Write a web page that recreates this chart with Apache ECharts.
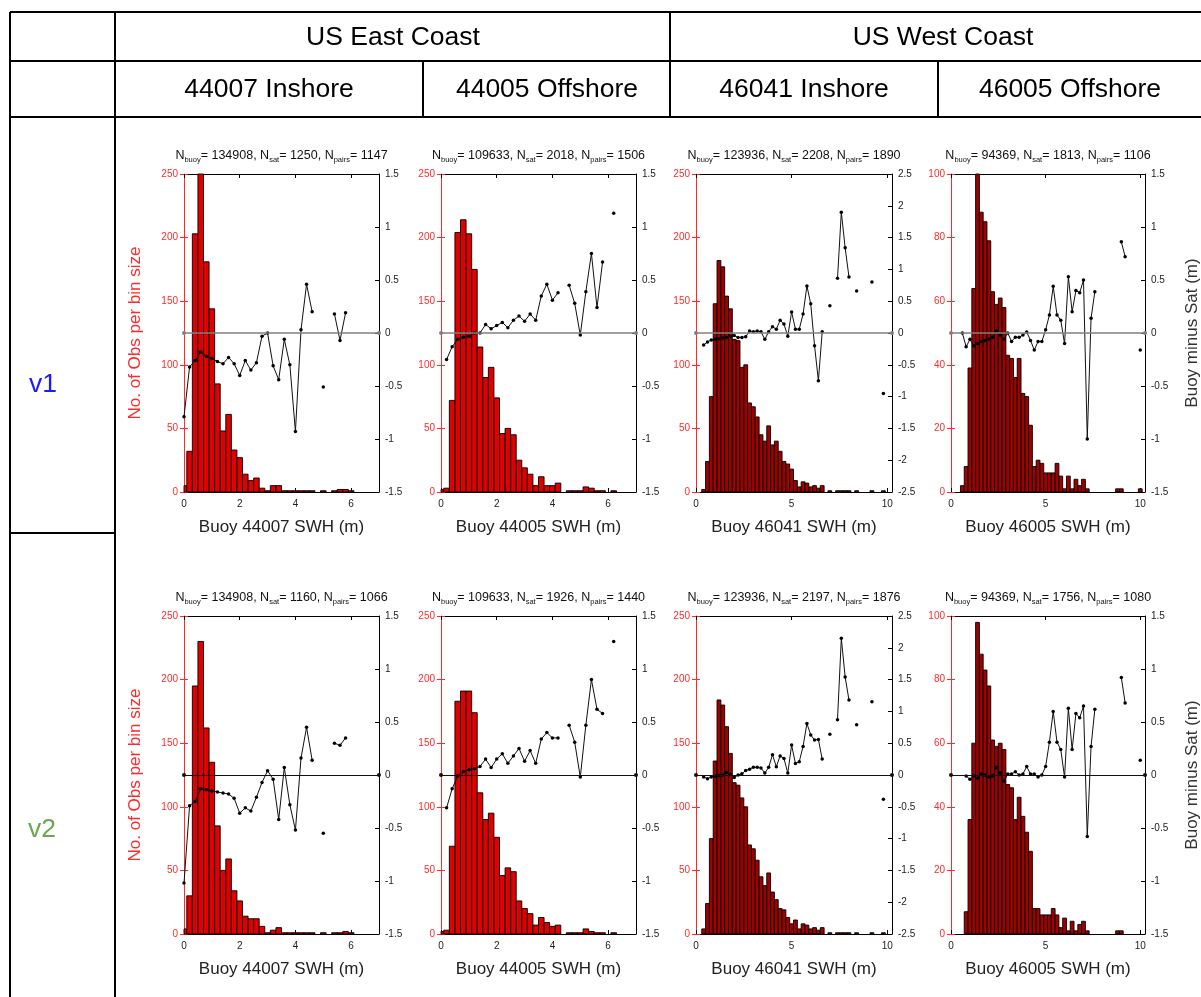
<!DOCTYPE html>
<html>
<head>
<meta charset="utf-8">
<script src="https://cdn.jsdelivr.net/npm/echarts@6.0.0/dist/echarts.min.js"></script>
<style>
  html, body { margin: 0; padding: 0; background: #fff; }
  #chart-container { width: 1201px; height: 997px; }
</style>
</head>
<body>
<div id="chart-container"></div>
<script>
// histogram bins are 0.2 m wide, centred on 0, 0.2, 0.4 ...
var binWidth = 0.2;

var buoys = ['44007', '44005', '46041', '46005'];
var regions = ['US East Coast', 'US West Coast'];
var sites = ['44007 Inshore', '44005 Offshore', '46041 Inshore', '46005 Offshore'];
var versions = ['v1', 'v2'];

var nBuoy = [134908, 109633, 123936, 94369];
var nSatV1 = [1250, 2018, 2208, 1813];
var nPairsV1 = [1147, 1506, 1890, 1106];
var nSatV2 = [1160, 1926, 2197, 1756];
var nPairsV2 = [1066, 1440, 1876, 1080];

// counts per bin (left axis)
var countV1_44007 = [5, 32, 203, 252, 181, 144, 85, 48, 61, 33, 27, 14, 9, 11, 3, 1, 5, 5, 1, 1, 1, 1, 1, 1, 0, 1, 0, 1, 2, 2, 1];
var countV1_44005 = [2, 3, 72, 204, 214, 203, 175, 114, 90, 98, 74, 46, 50, 45, 25, 19, 14, 5, 12, 5, 5, 7, 0, 1, 1, 1, 4, 3, 1, 1, 0, 1];
var countV1_46041 = [0, 0, 2, 24, 75, 148, 182, 177, 154, 144, 120, 119, 98, 100, 70, 67, 59, 45, 40, 52, 37, 40, 32, 24, 22, 18, 9, 4, 8, 7, 4, 5, 3, 5, 0, 1, 0, 1, 1, 1, 1, 0, 1, 0, 0, 0, 1, 0, 0, 1, 0];
var countV1_46005 = [0, 0, 0, 2, 8, 39, 64, 104, 88, 85, 79, 63, 59, 61, 58, 43, 42, 36, 42, 31, 30, 21, 8, 10, 9, 6, 6, 6, 9, 5, 1, 5, 1, 4, 2, 4, 1, 0, 0, 0, 0, 0, 0, 0, 1, 1, 0, 0, 0, 0, 1];
var countV2_44007 = [4, 30, 195, 230, 162, 135, 85, 50, 59, 34, 26, 14, 12, 12, 6, 1, 3, 5, 1, 1, 1, 1, 1, 1, 0, 1, 0, 1, 1, 2, 1];
var countV2_44005 = [2, 3, 69, 183, 191, 191, 174, 111, 90, 95, 76, 46, 52, 49, 26, 20, 16, 7, 13, 9, 6, 7, 0, 1, 1, 1, 4, 2, 1, 1, 0, 1];
var countV2_46041 = [0, 0, 4, 24, 75, 136, 184, 180, 163, 142, 119, 117, 107, 100, 70, 67, 58, 45, 38, 48, 33, 27, 20, 19, 13, 8, 11, 4, 8, 7, 4, 5, 3, 5, 0, 1, 0, 1, 1, 1, 1, 0, 1, 0, 0, 0, 1, 0, 0, 1, 0];
var countV2_46005 = [0, 0, 0, 0, 7, 36, 60, 98, 88, 83, 78, 61, 59, 60, 58, 47, 46, 36, 43, 37, 32, 26, 8, 8, 6, 6, 6, 8, 6, 2, 5, 1, 4, 1, 3, 4, 1, 0, 0, 0, 0, 0, 0, 0, 1, 1, 0, 0, 0, 0, 0];

// mean buoy minus satellite per bin (right axis), null = no pairs
var diffV1_44007 = [-0.79, -0.32, -0.26, -0.18, -0.22, -0.24, -0.27, -0.29, -0.23, -0.29, -0.40, -0.26, -0.35, -0.28, -0.03, 0.00, -0.31, -0.44, -0.06, -0.30, -0.93, 0.03, 0.46, 0.20, null, -0.51, null, 0.18, -0.07, 0.19];
var diffV1_44005 = [null, -0.25, -0.13, -0.06, -0.04, -0.03, 0.00, 0.00, 0.08, 0.04, 0.07, 0.10, 0.05, 0.12, 0.16, 0.11, 0.18, 0.12, 0.35, 0.46, 0.31, 0.38, null, 0.45, 0.28, -0.02, 0.39, 0.75, 0.24, 0.67, null, 1.13];
var diffV1_46041 = [null, null, -0.19, -0.14, -0.11, -0.10, -0.09, -0.08, -0.07, -0.05, -0.04, -0.07, -0.07, -0.06, 0.03, 0.02, 0.03, 0.02, -0.10, 0.02, 0.10, 0.06, 0.20, 0.14, -0.05, 0.33, 0.06, 0.06, 0.30, 0.74, 0.46, -0.20, -0.75, 0.02, null, 0.43, null, 0.86, 1.90, 1.34, 0.88, null, 0.66, null, null, null, 0.80, null, null, -0.95];
var diffV1_46005 = [null, null, null, 0.00, -0.13, -0.06, -0.12, -0.10, -0.08, -0.07, -0.06, -0.04, 0.02, -0.02, -0.06, 0.00, -0.08, -0.04, -0.04, -0.02, 0.01, -0.07, -0.16, -0.08, -0.08, 0.03, 0.17, 0.44, 0.17, 0.12, -0.10, 0.53, 0.20, 0.40, 0.38, 0.50, -1.00, 0.14, 0.39, null, null, null, null, null, null, 0.86, 0.72, null, null, null, -0.16];
var diffV2_44007 = [-1.02, -0.29, -0.25, -0.13, -0.14, -0.15, -0.16, -0.17, -0.18, -0.22, -0.36, -0.31, -0.34, -0.21, -0.07, 0.04, -0.04, -0.42, 0.07, -0.28, -0.52, 0.16, 0.45, 0.14, null, -0.55, null, 0.30, 0.28, 0.35];
var diffV2_44005 = [null, -0.31, -0.13, -0.01, 0.03, 0.05, 0.06, 0.08, 0.15, 0.07, 0.15, 0.20, 0.11, 0.18, 0.25, 0.13, 0.23, 0.11, 0.34, 0.40, 0.35, 0.35, null, 0.47, 0.31, -0.02, 0.47, 0.90, 0.62, 0.58, null, 1.26];
var diffV2_46041 = [null, null, -0.03, -0.06, -0.03, -0.02, -0.01, 0.00, 0.04, 0.01, -0.04, 0.00, 0.02, 0.07, 0.09, 0.12, 0.12, 0.11, 0.03, 0.12, 0.32, 0.13, 0.30, 0.26, 0.03, 0.47, 0.18, 0.21, 0.45, 0.81, 0.63, 0.55, 0.56, 0.25, null, 0.64, null, 0.87, 2.15, 1.54, 1.18, null, 0.79, null, null, null, 1.15, null, null, -0.38];
var diffV2_46005 = [null, null, null, null, -0.01, -0.04, -0.01, -0.03, 0.01, 0.00, -0.02, -0.01, 0.07, 0.02, -0.06, 0.01, 0.01, 0.03, 0.00, 0.01, 0.08, 0.01, 0.01, -0.02, 0.00, 0.08, 0.31, 0.60, 0.31, 0.24, -0.02, 0.63, 0.24, 0.58, 0.54, 0.65, -0.58, 0.27, 0.62, null, null, null, null, null, null, 0.92, 0.68, null, null, null, 0.14];

var counts = [
  [countV1_44007, countV1_44005, countV1_46041, countV1_46005],
  [countV2_44007, countV2_44005, countV2_46041, countV2_46005]
];
var diffs = [
  [diffV1_44007, diffV1_44005, diffV1_46041, diffV1_46005],
  [diffV2_44007, diffV2_44005, diffV2_46041, diffV2_46005]
];
var nSat = [nSatV1, nSatV2];
var nPairs = [nPairsV1, nPairsV2];

// axis ranges per buoy column
var scales = [
  { xMax: 7, xStep: 2, nMax: 250, nStep: 50, dMin: -1.5, dMax: 1.5, dStep: 0.5, bar: '#e00000' },
  { xMax: 7, xStep: 2, nMax: 250, nStep: 50, dMin: -1.5, dMax: 1.5, dStep: 0.5, bar: '#e00000' },
  { xMax: 10.25, xStep: 5, nMax: 250, nStep: 50, dMin: -2.5, dMax: 2.5, dStep: 0.5, bar: '#a00000' },
  { xMax: 10.25, xStep: 5, nMax: 100, nStep: 20, dMin: -1.5, dMax: 1.5, dStep: 0.5, bar: '#a00000' }
];

var gridLeft = [184, 441, 696, 951];
var gridWidth = [195, 195, 196, 194];
var gridTop = [174, 616];
var gridHeight = 318;

var font = 'Liberation Sans, Arial, Helvetica, sans-serif';
var red = '#ff2a2a';

function barRenderer(color) {
  return function (params, api) {
    var n = api.value(1);
    if (!n) return null;
    var c = api.value(0);
    var p0 = api.coord([c - binWidth / 2, n]);
    var p1 = api.coord([c + binWidth / 2, 0]);
    var rect = echarts.graphic.clipRectByRect(
      { x: p0[0], y: p0[1], width: p1[0] - p0[0], height: p1[1] - p0[1] },
      { x: params.coordSys.x, y: params.coordSys.y, width: params.coordSys.width, height: params.coordSys.height }
    );
    return rect && {
      type: 'rect',
      shape: rect,
      style: { fill: color, stroke: '#000', lineWidth: 0.9 }
    };
  };
}

var grid = [], xAxis = [], yAxis = [], series = [], graphic = [];

for (var r = 0; r < 2; r++) {
  for (var c = 0; c < 4; c++) {
    var k = r * 4 + c;
    var s = scales[c];
    grid.push({ left: gridLeft[c], top: gridTop[r], width: gridWidth[c], height: gridHeight, outerBoundsMode: 'none' });

    xAxis.push({
      type: 'value', gridIndex: k, position: 'bottom', min: 0, max: s.xMax, interval: s.xStep,
      axisLine: { onZero: false, lineStyle: { color: '#000', width: 1 } },
      axisTick: { inside: true, length: 4, lineStyle: { color: '#000' } },
      axisLabel: { color: '#222', fontSize: 10, fontFamily: font, margin: 7, showMaxLabel: false },
      splitLine: { show: false },
      name: 'Buoy ' + buoys[c] + ' SWH (m)', nameLocation: 'middle', nameGap: 27,
      nameTextStyle: { color: '#222', fontSize: 17, fontFamily: font }
    });
    xAxis.push({
      type: 'value', gridIndex: k, position: 'top', min: 0, max: s.xMax, interval: s.xStep,
      axisLine: { onZero: false, lineStyle: { color: '#000', width: 1 } },
      axisTick: { inside: true, length: 4, lineStyle: { color: '#000' } },
      axisLabel: { show: false },
      splitLine: { show: false }
    });

    yAxis.push({
      type: 'value', gridIndex: k, position: 'left', min: 0, max: s.nMax, interval: s.nStep,
      axisLine: { show: true, onZero: false, lineStyle: { color: red, width: 1 } },
      axisTick: { show: true, inside: true, length: 4, lineStyle: { color: red } },
      axisLabel: { color: red, fontSize: 10, fontFamily: font, margin: 6 },
      splitLine: { show: false },
      name: c === 0 ? 'No. of Obs per bin size' : '', nameLocation: 'middle', nameGap: 40,
      nameTextStyle: { color: red, fontSize: 17, fontFamily: font }
    });
    yAxis.push({
      type: 'value', gridIndex: k, position: 'right', min: s.dMin, max: s.dMax, interval: s.dStep,
      axisLine: { show: true, onZero: false, lineStyle: { color: '#000', width: 1 } },
      axisTick: { show: true, inside: true, length: 4, lineStyle: { color: '#000' } },
      axisLabel: { color: '#222', fontSize: 10, fontFamily: font, margin: 6 },
      splitLine: { show: false },
      name: c === 3 ? 'Buoy minus Sat (m)' : '', nameLocation: 'middle', nameGap: 39,
      nameTextStyle: { color: '#333', fontSize: 17, fontFamily: font }
    });
    // red ticks of the count axis repeated on the right edge
    yAxis.push({
      type: 'value', gridIndex: k, position: 'right', min: 0, max: s.nMax, interval: s.nStep,
      axisLine: { show: false },
      axisTick: { show: true, inside: true, length: 4, lineStyle: { color: red } },
      axisLabel: { show: false },
      splitLine: { show: false }
    });

    series.push({
      type: 'custom', xAxisIndex: 2 * k, yAxisIndex: 3 * k,
      data: counts[r][c].map(function (n, i) { return [i * binWidth, n]; }),
      encode: { x: 0, y: 1 },
      renderItem: barRenderer(s.bar),
      silent: true, animation: false, z: 2
    });
    series.push({
      type: 'line', xAxisIndex: 2 * k, yAxisIndex: 3 * k + 1,
      data: diffs[r][c].map(function (d, i) { return [i * binWidth, d === null ? '-' : d]; }),
      symbol: 'circle', symbolSize: 3.5, showSymbol: true, showAllSymbol: true,
      connectNulls: false,
      itemStyle: { color: '#000' },
      lineStyle: { color: '#111', width: 1 },
      silent: true, animation: false, z: 4,
      markLine: {
        silent: true, symbol: ['circle', 'circle'], symbolSize: 4,
        label: { show: false },
        lineStyle: { color: r === 0 ? '#808080' : '#111', width: r === 0 ? 1.5 : 1, type: 'solid' },
        data: [{ yAxis: 0 }]
      }
    });

    // panel title with subscripts
    graphic.push({
      type: 'text', x: gridLeft[c] + gridWidth[c] / 2, y: gridTop[r] - 18, silent: true,
      style: {
        text: '{n|N}{s|buoy}{n|= ' + nBuoy[c] + ', N}{s|sat}{n|= ' + nSat[r][c] + ', N}{s|pairs}{n|= ' + nPairs[r][c] + '}',
        align: 'center', verticalAlign: 'middle',
        rich: {
          n: { fontSize: 12.5, fontFamily: font, fill: '#111', lineHeight: 16, verticalAlign: 'middle' },
          s: { fontSize: 7.5, fontFamily: font, fill: '#111', lineHeight: 16, verticalAlign: 'bottom' }
        }
      }
    });
  }
}

// table frame
var tableLines = [
  [10, 12, 1201, 12], [10, 61, 1201, 61], [10, 117, 1201, 117],
  [10, 12, 10, 997], [115, 12, 115, 997], [670, 12, 670, 117],
  [423, 61, 423, 117], [938, 61, 938, 117], [10, 533, 115, 533]
];
tableLines.forEach(function (l) {
  graphic.push({
    type: 'line', silent: true,
    shape: { x1: l[0], y1: l[1], x2: l[2], y2: l[3] },
    style: { stroke: '#000', lineWidth: 2 }
  });
});

function cellText(text, x, y, color) {
  graphic.push({
    type: 'text', x: x, y: y, silent: true,
    style: { text: text, fill: color, fontSize: 26.5, fontFamily: font, align: 'center', verticalAlign: 'middle' }
  });
}
cellText(regions[0], 393, 38, '#000');
cellText(regions[1], 943, 38, '#000');
cellText(sites[0], 269, 90, '#000');
cellText(sites[1], 547, 90, '#000');
cellText(sites[2], 804, 90, '#000');
cellText(sites[3], 1070, 90, '#000');
cellText(versions[0], 43, 385, '#1a1aff');
cellText(versions[1], 42, 830, '#6aa84f');

var dom = document.getElementById('chart-container');
var myChart = echarts.init(dom, null, { renderer: 'canvas' });
myChart.setOption({
  animation: false,
  backgroundColor: '#fff',
  grid: grid,
  xAxis: xAxis,
  yAxis: yAxis,
  series: series,
  graphic: graphic
});
window.addEventListener('resize', myChart.resize);
</script>
</body>
</html>
